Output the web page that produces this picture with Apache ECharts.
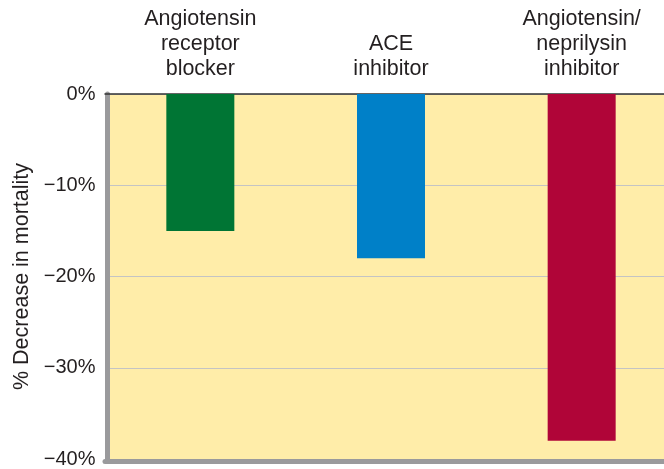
<!DOCTYPE html>
<html>
<head>
<meta charset="utf-8">
<script src="https://cdn.jsdelivr.net/npm/echarts@6/dist/echarts.min.js"></script>
<style>html,body{margin:0;padding:0;background:#fff}#c{width:664px;height:469px}</style>
</head>
<body>
<div id="c"></div>
<script>
var categories = ['Angiotensin\nreceptor\nblocker', 'ACE\ninhibitor', 'Angiotensin/\nneprilysin\ninhibitor'];
var values = [-15, -18, -38];
var barColors = ['#007534', '#0080c8', '#b00538'];
var yMin = -40, yMax = 0, yStep = 10;
var yAxisName = '% Decrease in mortality';

var chart = echarts.init(document.getElementById('c'), null, {renderer: 'canvas'});
var font = 'Liberation Sans, Arial, Helvetica, sans-serif';
chart.setOption({
  animation: false,
  grid: {left: 105, width: 572, top: 94, bottom: 10, show: true, backgroundColor: '#ffeda9', borderWidth: 0,
    outerBoundsMode: 'none', containLabel: false},
  xAxis: [{
    type: 'category', data: categories, position: 'top',
    axisLine: {show: true, onZero: false, lineStyle: {color: '#333', width: 1.5}},
    axisTick: {show: false},
    axisLabel: {color: '#231f20', fontSize: 21.5, fontFamily: font, lineHeight: 25, margin: 12}
  }, {
    type: 'category', data: categories, position: 'bottom', offset: 2.5,
    axisLine: {show: true, onZero: false, lineStyle: {color: '#9a9a9c', width: 5}},
    axisTick: {show: false}, axisLabel: {show: false}
  }],
  yAxis: {
    type: 'value', min: yMin, max: yMax, interval: yStep, offset: -2.5,
    name: yAxisName, nameLocation: 'middle', nameGap: 71, nameRotate: 90,
    nameTextStyle: {color: '#231f20', fontSize: 21.5, fontFamily: font},
    axisLine: {show: true, lineStyle: {color: '#9a9a9c', width: 5}},
    axisTick: {show: false},
    axisLabel: {color: '#231f20', fontSize: 20, fontFamily: font, margin: 12,
      formatter: function (v) { return (v < 0 ? '\u2212' + Math.abs(v) : v) + '%'; }},
    splitLine: {show: true, lineStyle: {color: '#c4c4c4', width: 1}}
  },
  series: [{
    type: 'bar', xAxisIndex: 0, barWidth: 68,
    data: values.map(function (v, i) { return {value: v, itemStyle: {color: barColors[i]}}; })
  }]
});
</script>
</body>
</html>
